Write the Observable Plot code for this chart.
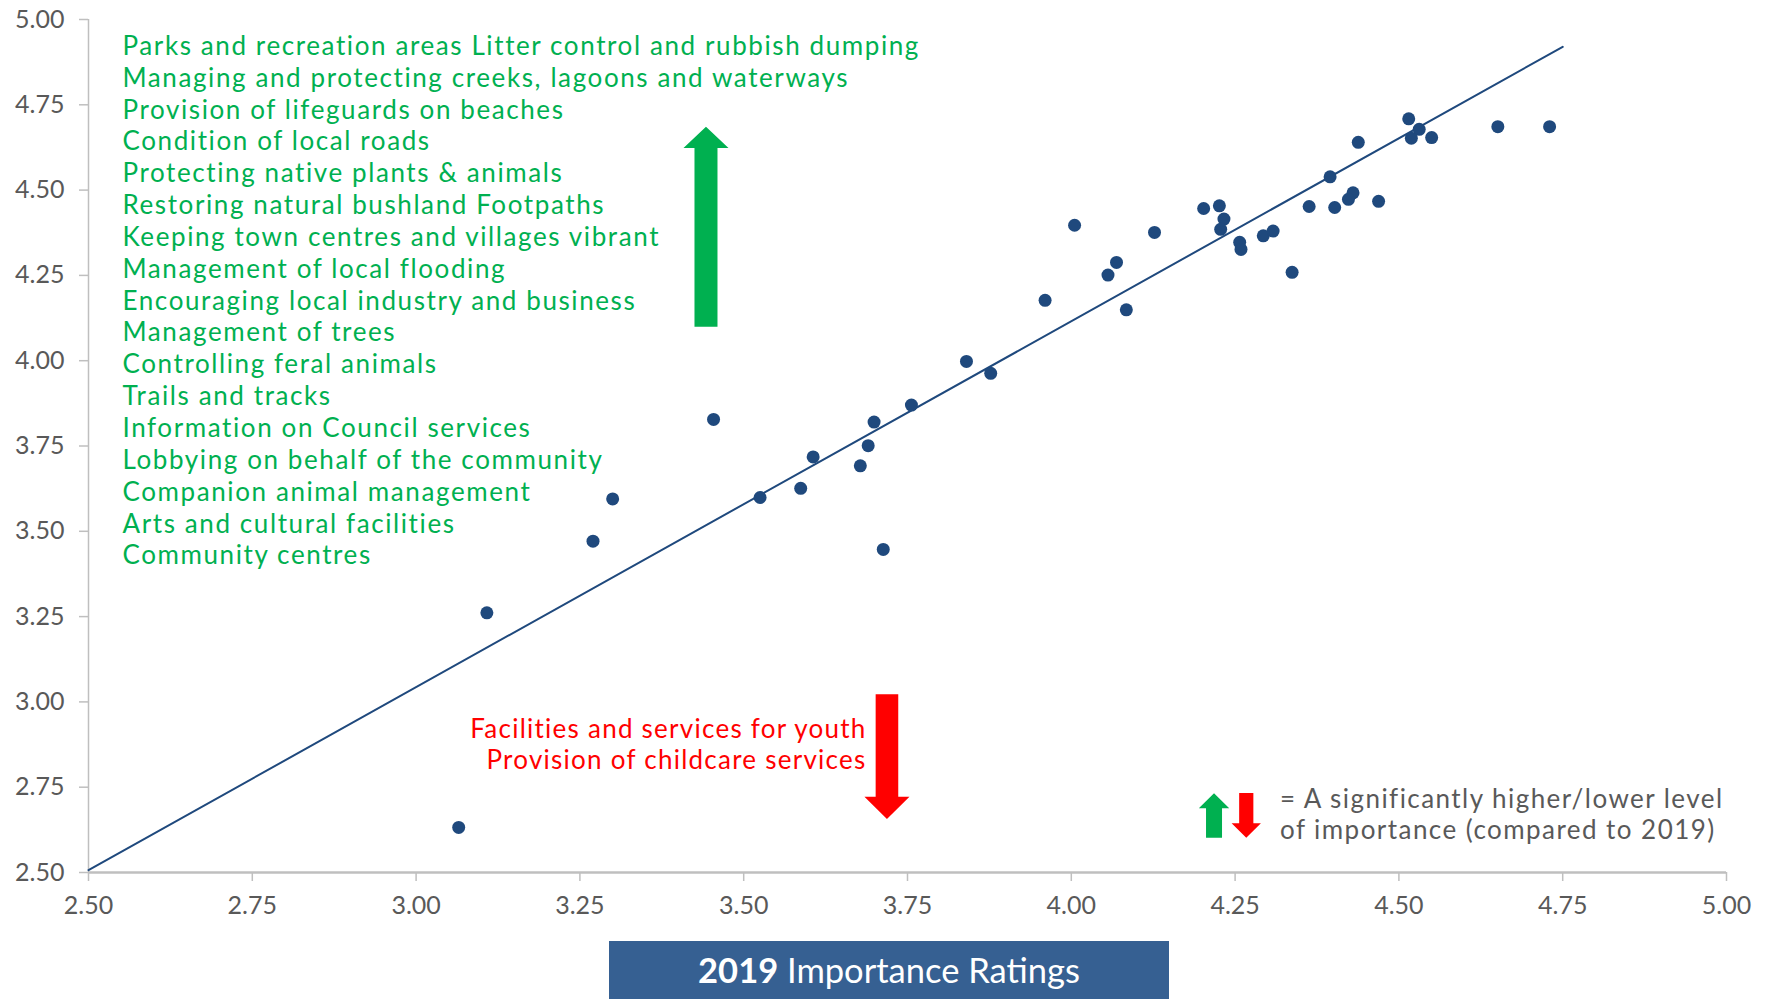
<!DOCTYPE html>
<html><head><meta charset="utf-8">
<script src="https://cdn.jsdelivr.net/npm/d3@7"></script>
<script src="https://cdn.jsdelivr.net/npm/@observablehq/plot@0.6"></script>
<style>
html,body{margin:0;padding:0;background:#fff;}
#wrap{position:relative;width:1769px;height:999px;overflow:hidden;background:#fff;}
#title{position:absolute;left:609px;top:941px;width:560px;height:58px;background:#366092;color:#fff;font-family:Lato,sans-serif;font-size:34.5px;line-height:58px;text-align:center;}
</style></head><body><div id="wrap"><div id="chart"></div><div id="title"><b>2019</b> Importance Ratings</div></div>
<script>
// 2019 importance (x) vs current importance (y)
const importance2019 = [4.515,4.531,4.519,4.550,4.651,4.730,4.438,4.395,4.363,4.402,4.430,4.423,4.469,4.202,4.226,4.233,4.228,4.005,4.127,4.257,4.259,4.293,4.308,4.337,4.069,4.056,4.084,3.960,3.840,3.877,3.756,3.699,3.690,3.678,3.606,3.587,3.525,3.713,3.454,3.300,3.270,3.108,3.065];
const importanceNow  = [4.709,4.678,4.652,4.654,4.686,4.686,4.640,4.539,4.452,4.449,4.492,4.473,4.467,4.446,4.454,4.415,4.385,4.397,4.376,4.347,4.326,4.366,4.380,4.259,4.288,4.251,4.149,4.177,3.998,3.963,3.870,3.820,3.751,3.692,3.718,3.626,3.599,3.447,3.828,3.595,3.471,3.261,2.632];
const trendX = [2.5, 4.75];
const trendY = [2.507, 4.92];
const xTicks = [2.5,2.75,3,3.25,3.5,3.75,4,4.25,4.5,4.75,5];
const yTicks = [2.5,2.75,3,3.25,3.5,3.75,4,4.25,4.5,4.75,5];
const higherLabels = ["Parks and recreation areas Litter control and rubbish dumping","Managing and protecting creeks, lagoons and waterways","Provision of lifeguards on beaches","Condition of local roads","Protecting native plants & animals","Restoring natural bushland Footpaths","Keeping town centres and villages vibrant","Management of local flooding","Encouraging local industry and business","Management of trees","Controlling feral animals","Trails and tracks","Information on Council services","Lobbying on behalf of the community","Companion animal management","Arts and cultural facilities","Community centres"];
const lowerLabels = ["Facilities and services for youth","Provision of childcare services"];
const legendLines = ["= A significantly higher/lower level","of importance (compared to 2019)"];

const points = importance2019.map((x, i) => ({x, y: importanceNow[i]}));
const trend = trendX.map((x, i) => ({x, y: trendY[i]}));

const FONT = "Lato, sans-serif";
const GREEN = "#00B050", RED = "#FF0000", GRAY = "#595959", AXIS = "#BFBFBF", NAVY = "#1F497D";

// block arrows, positioned in data space, sizes in px
const arrows = [
  {x: 3.4432, tip: 4.684, headBase: 4.622, end: 4.098, shaft: 23, head: 45, fill: GREEN},
  {x: 3.7194, tip: 2.6553, headBase: 2.7207, end: 3.0208, shaft: 22.6, head: 45, fill: RED},
  {x: 4.2186, tip: 2.7307, headBase: 2.6867, end: 2.6006, shaft: 16, head: 30.4, fill: GREEN},
  {x: 4.2678, tip: 2.6006, headBase: 2.6428, end: 2.7316, shaft: 14.2, head: 29.3, fill: RED}
];
function arrowMark(index, scales) {
  const ns = "http://www.w3.org/2000/svg";
  const g = document.createElementNS(ns, "g");
  for (const a of arrows) {
    const cx = scales.x(a.x), tip = scales.y(a.tip), base = scales.y(a.headBase), end = scales.y(a.end);
    const s = a.shaft / 2, h = a.head / 2;
    const p = document.createElementNS(ns, "path");
    p.setAttribute("d", `M${cx-s},${end}L${cx-s},${base}L${cx-h},${base}L${cx},${tip}L${cx+h},${base}L${cx+s},${base}L${cx+s},${end}Z`);
    p.setAttribute("fill", a.fill);
    g.appendChild(p);
  }
  return g;
}

const fmt = d => d.toFixed(2);
const chart = Plot.plot({
  width: 1769, height: 940,
  marginLeft: 88, marginRight: 43, marginTop: 19, marginBottom: 68,
  style: {fontFamily: FONT, fontSize: "25px", background: "#fff", color: GRAY},
  x: {domain: [2.5, 5]},
  y: {domain: [2.5, 5]},
  marks: [
    Plot.axisX({ticks: xTicks, tickFormat: fmt, tickSize: 9, tickPadding: 15, stroke: AXIS, strokeWidth: 1.5, fill: GRAY, label: null}),
    Plot.axisY({ticks: yTicks, tickFormat: fmt, tickSize: 9, tickPadding: 15, stroke: AXIS, strokeWidth: 1.5, fill: GRAY, label: null}),
    Plot.ruleX([2.5], {stroke: AXIS, strokeWidth: 1.5}),
    Plot.ruleY([2.5], {stroke: AXIS, strokeWidth: 2.5}),
    Plot.line(trend, {x: "x", y: "y", stroke: NAVY, strokeWidth: 2}),
    Plot.dot(points, {x: "x", y: "y", r: 6.5, fill: NAVY}),
    Plot.text([higherLabels.join("\n")], {frameAnchor: "top-left", textAnchor: "start", dx: 34, dy: 12.7, lineHeight: 1.225, fontSize: 26, fill: GREEN}),
    Plot.text([lowerLabels.join("\n")], {frameAnchor: "top-left", textAnchor: "end", dx: 778, dy: 695.4, lineHeight: 1.225, fontSize: 26, fill: RED}),
    Plot.text([legendLines.join("\n")], {frameAnchor: "top-left", textAnchor: "start", dx: 1191.5, dy: 766, lineHeight: 1.2, fontSize: 26, fill: GRAY}),
    arrowMark
  ]
});
// widen annotation lettering to approximate the original geometric typeface
const spacing = ["1.6px", "1.25px", "1.45px"];
d3.select(chart).selectAll('g[aria-label="text"]').each(function(d, i) {
  this.style.letterSpacing = spacing[i] || "0px";
});
document.getElementById("chart").appendChild(chart);
</script>
</body></html>
